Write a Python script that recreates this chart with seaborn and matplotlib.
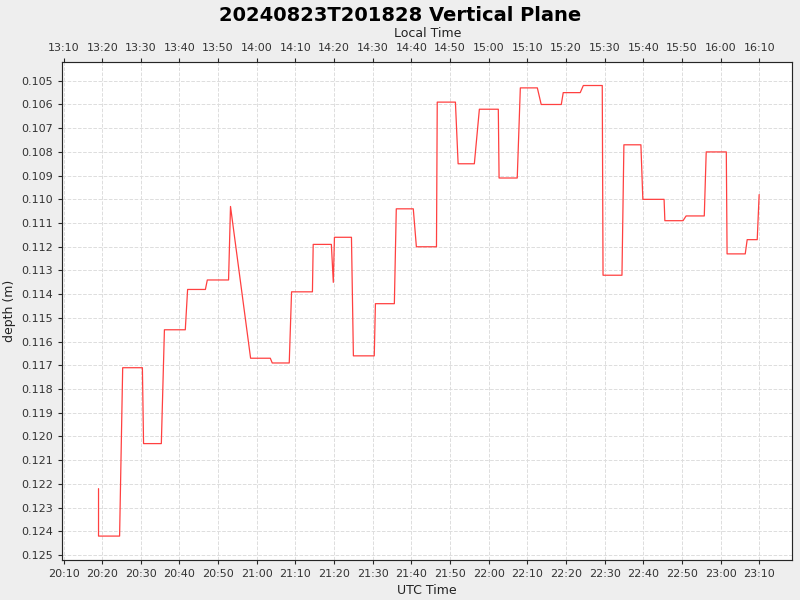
import matplotlib
matplotlib.use('Agg')
import matplotlib.pyplot as plt
import matplotlib.dates as mdates
import numpy as np
import pandas as pd
import seaborn as sns

# minutes after 20:10 UTC and depth (m)
minutes = [9.05, 9.05, 14.5, 15.3, 20.4, 20.7, 25.3, 26.1, 31.5, 32.1, 36.7, 37.2,
           42.7, 43.2, 48.4, 53.5, 54.0, 58.4, 59.0, 64.4, 64.6, 69.3, 69.8, 70.1,
           74.5, 75.0, 80.4, 80.7, 85.6, 86.1, 90.5, 91.3, 96.5, 96.7, 101.4, 102.1,
           106.3, 107.6, 112.5, 112.7, 117.4, 118.2, 122.6, 123.6, 128.8, 129.3,
           133.7, 134.5, 139.4, 139.6, 144.5, 145.0, 149.4, 149.9, 155.4, 155.6,
           160.3, 161.1, 165.8, 166.3, 171.5, 171.7, 176.4, 176.9, 179.5, 180.0]
depth = [0.1222, 0.1242, 0.1242, 0.1171, 0.1171, 0.1203, 0.1203, 0.1155, 0.1155, 0.1138,
         0.1138, 0.1134, 0.1134, 0.1103, 0.1167, 0.1167, 0.1169, 0.1169, 0.1139, 0.1139,
         0.1119, 0.1119, 0.1135, 0.1116, 0.1116, 0.1166, 0.1166, 0.1144, 0.1144, 0.1104,
         0.1104, 0.1120, 0.1120, 0.1059, 0.1059, 0.1085, 0.1085, 0.1062, 0.1062, 0.1091,
         0.1091, 0.1053, 0.1053, 0.1060, 0.1060, 0.1055, 0.1055, 0.1052, 0.1052, 0.1132,
         0.1132, 0.1077, 0.1077, 0.1100, 0.1100, 0.1109, 0.1109, 0.1107, 0.1107, 0.1080,
         0.1080, 0.1123, 0.1123, 0.1117, 0.1117, 0.1098]
y_ticks = [round(0.105 + 0.001 * i, 3) for i in range(21)]

t0 = pd.Timestamp('2024-08-23 20:10')
df = pd.DataFrame({'time': [t0 + pd.Timedelta(minutes=m) for m in minutes], 'depth': depth})

sns.set_style('white')
plt.rcParams['font.family'] = ['DejaVu Sans']
plt.rcParams['text.color'] = 'black'
fig, ax = plt.subplots(figsize=(8, 6), dpi=100, facecolor='#eeeeee')
fig.subplots_adjust(left=0.078, right=0.99, top=0.897, bottom=0.067)

sns.lineplot(data=df, x='time', y='depth', ax=ax, color='#ff4040', linewidth=0.9,
             sort=False, estimator=None)

xmin = t0 - pd.Timedelta(minutes=0.3)
xmax = t0 + pd.Timedelta(minutes=188.5)
ax.set_xlim(xmin, xmax)
ax.set_ylim(0.1252, 0.1042)
ax.set_yticks(y_ticks)
ax.set_yticklabels([f'{v:.3f}' for v in y_ticks])
ax.xaxis.set_major_locator(mdates.MinuteLocator(byminute=range(0, 60, 10)))
ax.xaxis.set_major_formatter(mdates.DateFormatter('%H:%M'))
ax.tick_params(labelsize=8, length=3, left=True, bottom=True, labelcolor='#333333')
ax.grid(True, color='#dddddd', linestyle='--', linewidth=0.7)
for s in ax.spines.values():
    s.set_color('#888888')
    s.set_linewidth(0.8)
ax.set_xlabel('UTC Time', fontsize=9, color='#222222')
ax.set_ylabel('depth (m)', fontsize=9, color='#222222')

top = ax.twiny()
shift = pd.Timedelta(hours=7)
top.set_xlim(xmin - shift, xmax - shift)
top.xaxis.set_major_locator(mdates.MinuteLocator(byminute=range(0, 60, 10)))
top.xaxis.set_major_formatter(mdates.DateFormatter('%H:%M'))
top.tick_params(labelsize=8, length=3, top=True, labelcolor='#333333')
top.set_xlabel('Local Time', fontsize=9, color='#222222')

fig.suptitle('20240823T201828 Vertical Plane', fontsize=14, fontweight='bold', y=0.99,
             color='black')
fig.savefig('out.png', dpi=100, facecolor=fig.get_facecolor())
